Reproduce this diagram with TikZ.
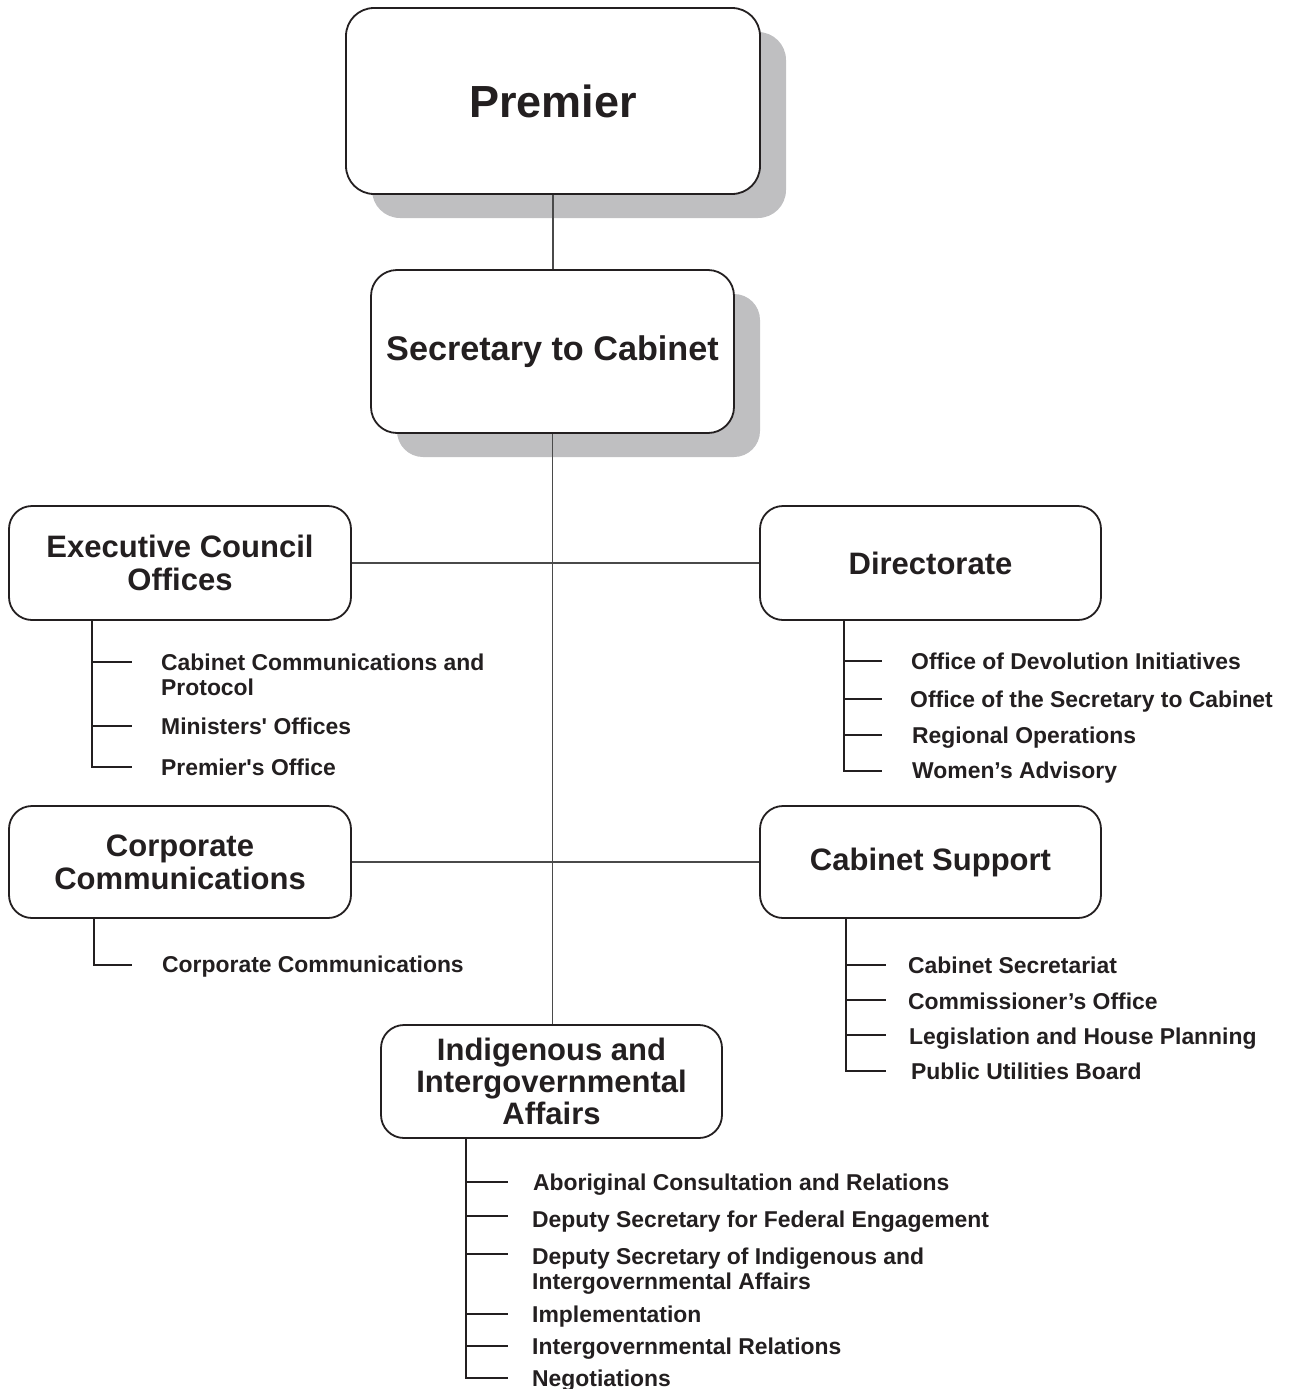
\documentclass[tikz,border=0pt]{standalone}
\usepackage{fontspec}
\setmainfont{Liberation Sans}
\newfontfamily\straightfont{Liberation Sans}
\usetikzlibrary{shadows}
\definecolor{ink}{HTML}{231F20}
\definecolor{shade}{HTML}{BFBFC1}
\definecolor{linec}{HTML}{4A4A4A}
\newcommand{\sq}{{\straightfont\bfseries'}}
\begin{document}
\begin{tikzpicture}[x=1pt,y=-1pt,
  box/.style={draw=ink, line width=1.8pt, rounded corners=23pt, fill=white, inner sep=0pt,
    align=center, text=ink, font=\bfseries\fontsize{31}{33}\selectfont},
  shadowed/.style={drop shadow={shadow xshift=26pt, shadow yshift=-24pt, fill=shade, opacity=1}},
  conn/.style={draw=linec, line width=1.2pt},
  sub/.style={draw=ink, line width=1.8pt},
  item/.style={anchor=west, inner sep=0pt, text=ink, text height=16.5pt, text depth=0pt,
    font=\bfseries\fontsize{22.9}{25}\selectfont},
  itemtwo/.style={anchor=north west, inner sep=0pt, text=ink, align=left,
    font=\bfseries\fontsize{22.9}{24.5}\selectfont}]
\useasboundingbox (0,0) rectangle (1293,1389);

% main boxes
\node[box, shadowed, minimum width=414pt, minimum height=186pt, rounded corners=28pt,
  font=\bfseries\fontsize{45}{48}\selectfont] (prem) at (553,101) {Premier};
\node[box, shadowed, minimum width=363pt, minimum height=163pt, rounded corners=26pt,
  font=\bfseries\fontsize{34.2}{38}\selectfont] (sec) at (552.5,351.5) {Secretary to Cabinet};

\node[box, minimum width=342pt, minimum height=114pt] (eco) at (180,563) {Executive Council\\Offices};
\node[box, minimum width=341pt, minimum height=114pt] (dir) at (930.5,563) {Directorate};
\node[box, minimum width=342pt, minimum height=112pt] (cc) at (180,862) {Corporate\\Communications};
\node[box, minimum width=341pt, minimum height=112pt] (cs) at (930.5,862) {Cabinet Support};
\node[box, minimum width=341pt, minimum height=113pt, font=\bfseries\fontsize{31}{32}\selectfont]
  (ind) at (551.5,1081.5) {Indigenous and\\Intergovernmental\\Affairs};

% connectors
\draw[conn] (prem.south) -- (prem.south |- sec.north);
\draw[conn] (sec.south) -- (sec.south |- ind.north);
\draw[conn] (eco.east) -- (dir.west);
\draw[conn] (cc.east) -- (cs.west);

% Executive Council Offices
\node[itemtwo] (e1) at (161,654) {Cabinet Communications and\\Protocol};
\node[item] (e2) at (161,726) {Ministers\sq{} Offices};
\node[item] (e3) at (161,767) {Premier\sq{}s Office};
\coordinate (e1t) at (132,662);
\coordinate (e2t) at (132,726);
\coordinate (e3t) at (132,767);
\draw[sub] (92,620) |- (e3t);
\draw[sub] (92,662) -- (e1t);
\draw[sub] (92,726) -- (e2t);

% Directorate
\node[item] (d1) at (911,661) {Office of Devolution Initiatives};
\node[item] (d2) at (910,699) {Office of the Secretary to Cabinet};
\node[item] (d3) at (912,735) {Regional Operations};
\node[item] (d4) at (912,770) {Women’s Advisory};
\coordinate (d1t) at (882,661);
\coordinate (d2t) at (882,699);
\coordinate (d3t) at (882,735);
\coordinate (d4t) at (882,771);
\draw[sub] (844,620) |- (d4t);
\draw[sub] (844,661) -- (d1t);
\draw[sub] (844,699) -- (d2t);
\draw[sub] (844,735) -- (d3t);

% Corporate Communications
\node[item] (c1) at (162,964) {Corporate Communications};
\coordinate (c1t) at (132,965);
\draw[sub] (94,918) |- (c1t);

% Cabinet Support
\node[item] (s1) at (908,965) {Cabinet Secretariat};
\node[item] (s2) at (908,1001) {Commissioner’s Office};
\node[item] (s3) at (909,1036) {Legislation and House Planning};
\node[item] (s4) at (911,1071) {Public Utilities Board};
\coordinate (s1t) at (886,965);
\coordinate (s2t) at (886,1000);
\coordinate (s3t) at (886,1035);
\coordinate (s4t) at (886,1071);
\draw[sub] (846,918) |- (s4t);
\draw[sub] (846,965) -- (s1t);
\draw[sub] (846,1000) -- (s2t);
\draw[sub] (846,1035) -- (s3t);

% Indigenous and Intergovernmental Affairs
\node[item] (i1) at (533,1182) {Aboriginal Consultation and Relations};
\node[item] (i2) at (532,1219) {Deputy Secretary for Federal Engagement};
\node[itemtwo] (i3) at (532,1248) {Deputy Secretary of Indigenous and\\Intergovernmental Affairs};
\node[item] (i4) at (532,1314) {Implementation};
\node[item] (i5) at (532,1346) {Intergovernmental Relations};
\node[item] (i6) at (532,1378) {Negotiations};
\coordinate (i1t) at (508,1182);
\coordinate (i2t) at (508,1216);
\coordinate (i3t) at (508,1254);
\coordinate (i4t) at (508,1314);
\coordinate (i5t) at (508,1346);
\coordinate (i6t) at (508,1378);
\draw[sub] (466,1138) |- (i6t);
\draw[sub] (466,1182) -- (i1t);
\draw[sub] (466,1216) -- (i2t);
\draw[sub] (466,1254) -- (i3t);
\draw[sub] (466,1314) -- (i4t);
\draw[sub] (466,1346) -- (i5t);
\end{tikzpicture}
\end{document}
